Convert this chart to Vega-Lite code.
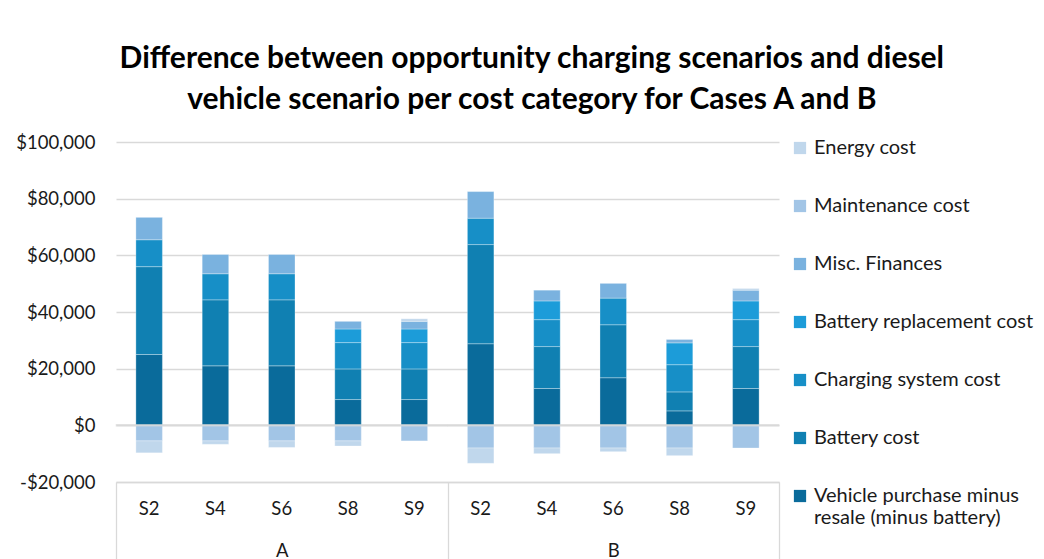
{
  "$schema": "https://vega.github.io/schema/vega-lite/v6.json",
  "width": 663,
  "height": 340,
  "padding": {"left": 15, "top": 43, "right": 5, "bottom": 5},
  "background": "white",
  "config": {
    "font": "Lato",
    "view": {"stroke": null},
    "axis": {"labelFont": "Lato", "labelFontSize": 18.5, "labelColor": "#1a1a1a"},
    "legend": {"labelFont": "Lato", "labelFontSize": 20, "labelColor": "#1a1a1a"}
  },
  "title": {
    "text": ["Difference between opportunity charging scenarios and diesel", "vehicle scenario per cost category for Cases A and B"],
    "font": "Lato",
    "fontSize": 30,
    "fontWeight": "bold",
    "color": "#000000",
    "lineHeight": 41,
    "anchor": "middle",
    "frame": "bounds",
    "offset": 18.5,
    "dx": 7
  },
  "datasets": {
    "costs": [
      {"key": "A-S2", "Category": "Vehicle purchase minus resale (minus battery)", "Series": 1, "Cost": 25000},
      {"key": "A-S2", "Category": "Battery cost", "Series": 2, "Cost": 31000},
      {"key": "A-S2", "Category": "Charging system cost", "Series": 3, "Cost": 9500},
      {"key": "A-S2", "Category": "Misc. Finances", "Series": 5, "Cost": 7900},
      {"key": "A-S2", "Category": "Maintenance cost", "Series": 6, "Cost": -5500},
      {"key": "A-S2", "Category": "Energy cost", "Series": 7, "Cost": -4200},
      {"key": "A-S4", "Category": "Vehicle purchase minus resale (minus battery)", "Series": 1, "Cost": 21000},
      {"key": "A-S4", "Category": "Battery cost", "Series": 2, "Cost": 23300},
      {"key": "A-S4", "Category": "Charging system cost", "Series": 3, "Cost": 9200},
      {"key": "A-S4", "Category": "Misc. Finances", "Series": 5, "Cost": 6800},
      {"key": "A-S4", "Category": "Maintenance cost", "Series": 6, "Cost": -5500},
      {"key": "A-S4", "Category": "Energy cost", "Series": 7, "Cost": -1200},
      {"key": "A-S6", "Category": "Vehicle purchase minus resale (minus battery)", "Series": 1, "Cost": 21000},
      {"key": "A-S6", "Category": "Battery cost", "Series": 2, "Cost": 23300},
      {"key": "A-S6", "Category": "Charging system cost", "Series": 3, "Cost": 9200},
      {"key": "A-S6", "Category": "Misc. Finances", "Series": 5, "Cost": 6800},
      {"key": "A-S6", "Category": "Maintenance cost", "Series": 6, "Cost": -5500},
      {"key": "A-S6", "Category": "Energy cost", "Series": 7, "Cost": -2300},
      {"key": "A-S8", "Category": "Vehicle purchase minus resale (minus battery)", "Series": 1, "Cost": 9100},
      {"key": "A-S8", "Category": "Battery cost", "Series": 2, "Cost": 10800},
      {"key": "A-S8", "Category": "Charging system cost", "Series": 3, "Cost": 9300},
      {"key": "A-S8", "Category": "Battery replacement cost", "Series": 4, "Cost": 4800},
      {"key": "A-S8", "Category": "Misc. Finances", "Series": 5, "Cost": 2700},
      {"key": "A-S8", "Category": "Maintenance cost", "Series": 6, "Cost": -5500},
      {"key": "A-S8", "Category": "Energy cost", "Series": 7, "Cost": -1800},
      {"key": "A-S9", "Category": "Vehicle purchase minus resale (minus battery)", "Series": 1, "Cost": 9100},
      {"key": "A-S9", "Category": "Battery cost", "Series": 2, "Cost": 10800},
      {"key": "A-S9", "Category": "Charging system cost", "Series": 3, "Cost": 9300},
      {"key": "A-S9", "Category": "Battery replacement cost", "Series": 4, "Cost": 4800},
      {"key": "A-S9", "Category": "Misc. Finances", "Series": 5, "Cost": 2700},
      {"key": "A-S9", "Category": "Maintenance cost", "Series": 6, "Cost": -5500},
      {"key": "A-S9", "Category": "Energy cost", "Series": 7, "Cost": 900},
      {"key": "B-S2", "Category": "Vehicle purchase minus resale (minus battery)", "Series": 1, "Cost": 28800},
      {"key": "B-S2", "Category": "Battery cost", "Series": 2, "Cost": 35000},
      {"key": "B-S2", "Category": "Charging system cost", "Series": 3, "Cost": 9300},
      {"key": "B-S2", "Category": "Misc. Finances", "Series": 5, "Cost": 9400},
      {"key": "B-S2", "Category": "Maintenance cost", "Series": 6, "Cost": -8000},
      {"key": "B-S2", "Category": "Energy cost", "Series": 7, "Cost": -5400},
      {"key": "B-S4", "Category": "Vehicle purchase minus resale (minus battery)", "Series": 1, "Cost": 13000},
      {"key": "B-S4", "Category": "Battery cost", "Series": 2, "Cost": 14800},
      {"key": "B-S4", "Category": "Charging system cost", "Series": 3, "Cost": 9500},
      {"key": "B-S4", "Category": "Battery replacement cost", "Series": 4, "Cost": 6600},
      {"key": "B-S4", "Category": "Misc. Finances", "Series": 5, "Cost": 3800},
      {"key": "B-S4", "Category": "Maintenance cost", "Series": 6, "Cost": -8000},
      {"key": "B-S4", "Category": "Energy cost", "Series": 7, "Cost": -2000},
      {"key": "B-S6", "Category": "Vehicle purchase minus resale (minus battery)", "Series": 1, "Cost": 16800},
      {"key": "B-S6", "Category": "Battery cost", "Series": 2, "Cost": 18700},
      {"key": "B-S6", "Category": "Charging system cost", "Series": 3, "Cost": 9400},
      {"key": "B-S6", "Category": "Misc. Finances", "Series": 5, "Cost": 5200},
      {"key": "B-S6", "Category": "Maintenance cost", "Series": 6, "Cost": -8000},
      {"key": "B-S6", "Category": "Energy cost", "Series": 7, "Cost": -1300},
      {"key": "B-S8", "Category": "Vehicle purchase minus resale (minus battery)", "Series": 1, "Cost": 5100},
      {"key": "B-S8", "Category": "Battery cost", "Series": 2, "Cost": 6700},
      {"key": "B-S8", "Category": "Charging system cost", "Series": 3, "Cost": 9600},
      {"key": "B-S8", "Category": "Battery replacement cost", "Series": 4, "Cost": 7700},
      {"key": "B-S8", "Category": "Misc. Finances", "Series": 5, "Cost": 1200},
      {"key": "B-S8", "Category": "Maintenance cost", "Series": 6, "Cost": -8000},
      {"key": "B-S8", "Category": "Energy cost", "Series": 7, "Cost": -2700},
      {"key": "B-S9", "Category": "Vehicle purchase minus resale (minus battery)", "Series": 1, "Cost": 13000},
      {"key": "B-S9", "Category": "Battery cost", "Series": 2, "Cost": 14800},
      {"key": "B-S9", "Category": "Charging system cost", "Series": 3, "Cost": 9500},
      {"key": "B-S9", "Category": "Battery replacement cost", "Series": 4, "Cost": 6600},
      {"key": "B-S9", "Category": "Misc. Finances", "Series": 5, "Cost": 3800},
      {"key": "B-S9", "Category": "Maintenance cost", "Series": 6, "Cost": -8000},
      {"key": "B-S9", "Category": "Energy cost", "Series": 7, "Cost": 600}
    ],
    "cases": [
      {"Case": "A"},
      {"Case": "B"}
    ]
  },
  "layer": [
    {
      "data": {"name": "costs"},
      "mark": {"type": "bar", "stroke": "white", "strokeOpacity": 0.3, "strokeWidth": 1},
      "encoding": {
        "x": {
          "field": "key",
          "type": "nominal",
          "sort": null,
          "scale": {"paddingInner": 0.6, "paddingOuter": 0.3},
          "axis": {
            "orient": "bottom",
            "title": null,
            "labelExpr": "split(datum.label, '-')[1]",
            "labelAngle": 0,
            "ticks": false,
            "domain": true,
            "domainColor": "#d9d9d9",
            "domainWidth": 1.3,
            "labelPadding": 17,
            "grid": false
          }
        },
        "y": {
          "field": "Cost",
          "type": "quantitative",
          "stack": "zero",
          "scale": {"domain": [-20000, 100000], "nice": false},
          "axis": {
            "title": null,
            "values": [-20000, 0, 20000, 40000, 60000, 80000, 100000],
            "labelExpr": "datum.value < 0 ? '-$' + format(-datum.value, ',') : '$' + format(datum.value, ',')",
            "ticks": false,
            "domain": false,
            "grid": true,
            "gridColor": "#d9d9d9",
            "gridWidth": 1.3,
            "labelPadding": 21
          }
        },
        "order": {"field": "Series", "type": "quantitative", "sort": "ascending"},
        "color": {
          "field": "Category",
          "type": "nominal",
          "scale": {
            "domain": ["Energy cost", "Maintenance cost", "Misc. Finances", "Battery replacement cost", "Charging system cost", "Battery cost", "Vehicle purchase minus resale (minus battery)"],
            "range": ["#c0d7ec", "#a2c5e6", "#7ab2df", "#1c9cd9", "#178fc7", "#1080b2", "#0a6b9b"]
          },
          "legend": {
            "title": null,
            "orient": "none",
            "legendX": 674,
            "legendY": -4,
            "symbolType": "square",
            "symbolSize": 150,
            "symbolStrokeWidth": 0,
            "labelOffset": 4,
            "rowPadding": 38,
            "labelLimit": 400,
            "labelExpr": "datum.label == 'Vehicle purchase minus resale (minus battery)' ? ['Vehicle purchase minus', 'resale (minus battery)'] : datum.label",
            "encode": {"labels": {"enter": {"lineHeight": {"value": 28}}, "update": {"lineHeight": {"value": 28}}}}
          }
        }
      }
    },
    {
      "data": {"name": "cases"},
      "mark": {"type": "tick", "orient": "horizontal", "thickness": 2.5, "color": "#d9d9d9", "size": 332},
      "encoding": {
        "x": {
          "field": "Case",
          "type": "nominal",
          "scale": {"paddingInner": 0, "paddingOuter": 0},
          "axis": {
            "orient": "bottom",
            "title": null,
            "labelAngle": 0,
            "domain": false,
            "ticks": true,
            "tickBand": "extent",
            "tickSize": 80,
            "tickColor": "#d9d9d9",
            "tickWidth": 1.3,
            "labelPadding": -21,
            "grid": false
          }
        },
        "y": {"datum": 0, "type": "quantitative"}
      }
    }
  ],
  "resolve": {"scale": {"x": "independent"}, "axis": {"x": "independent"}}
}
